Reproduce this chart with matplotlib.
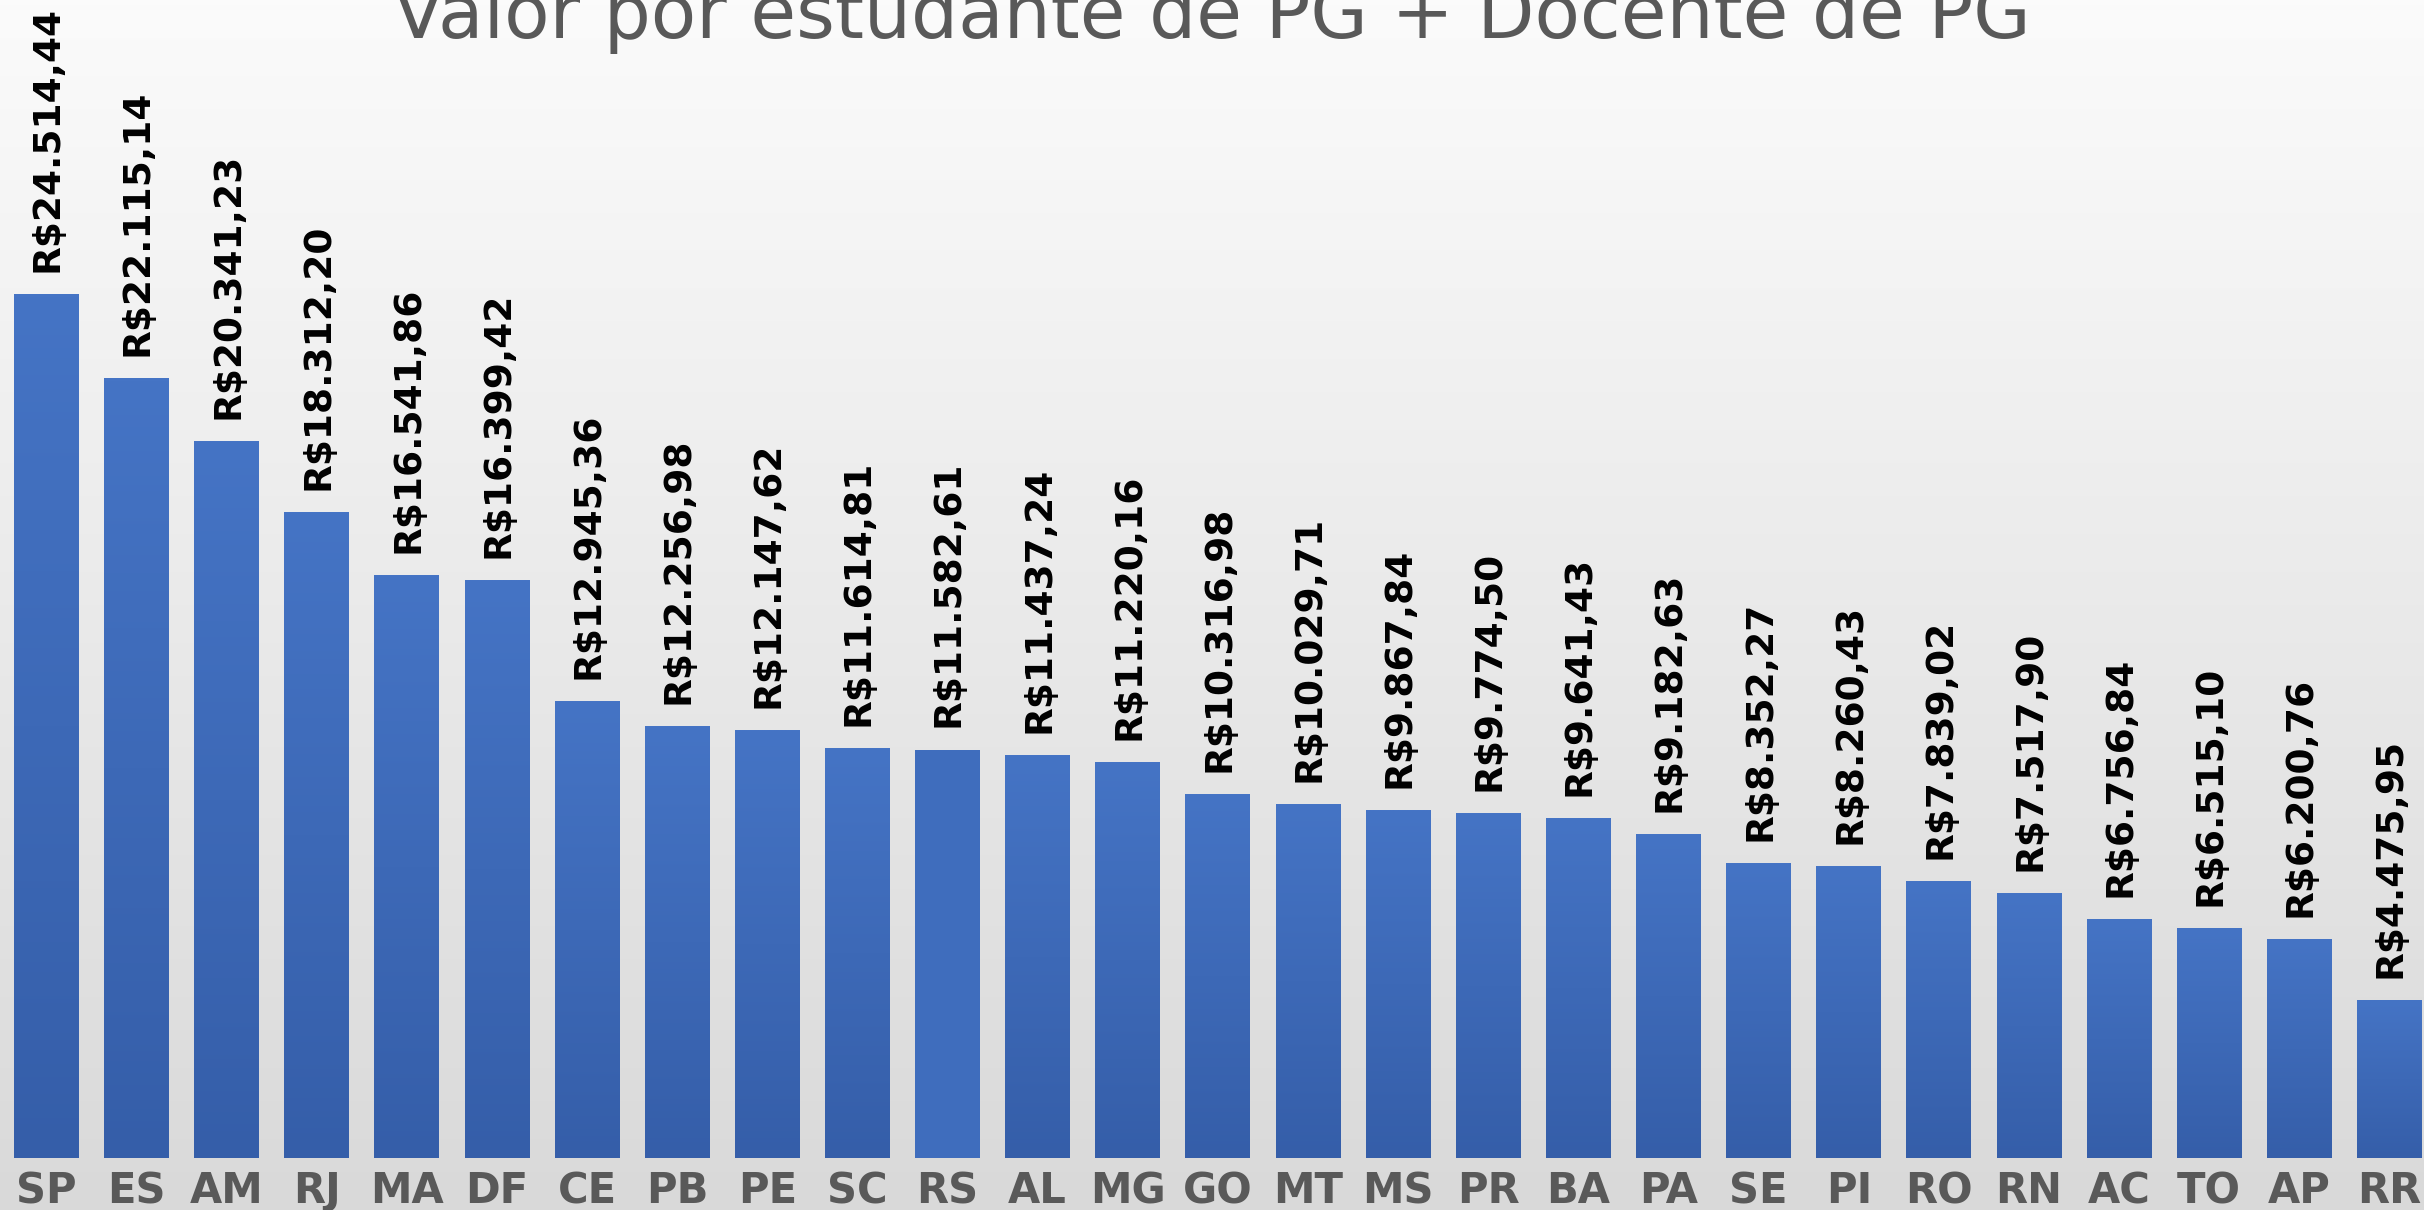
import matplotlib
matplotlib.use('Agg')
import matplotlib.pyplot as plt
import numpy as np
from matplotlib.colors import LinearSegmentedColormap

estados = ['SP', 'ES', 'AM', 'RJ', 'MA', 'DF', 'CE', 'PB', 'PE', 'SC', 'RS', 'AL', 'MG', 'GO',
           'MT', 'MS', 'PR', 'BA', 'PA', 'SE', 'PI', 'RO', 'RN', 'AC', 'TO', 'AP', 'RR']
valores = [24514.44, 22115.14, 20341.23, 18312.20, 16541.86, 16399.42, 12945.36, 12256.98,
           12147.62, 11614.81, 11582.61, 11437.24, 11220.16, 10316.98, 10029.71, 9867.84,
           9774.50, 9641.43, 9182.63, 8352.27, 8260.43, 7839.02, 7517.90, 6756.84, 6515.10,
           6200.76, 4475.95]
titulo = 'Valor por estudante de PG + Docente de PG'


def brl(v):
    s = '{:,.2f}'.format(v).replace(',', 'X').replace('.', ',').replace('X', '.')
    return 'R$' + s


W, H = 2424, 1210
fig = plt.figure(figsize=(W / 100, H / 100), dpi=100)

# background gradient (white at top -> light gray at bottom)
bg = fig.add_axes([0, 0, 1, 1], zorder=-10)
grad = np.linspace(0, 1, 256).reshape(-1, 1)
bg_cmap = LinearSegmentedColormap.from_list('bg', ['#fbfbfb', '#d9d9d9'])
bg.imshow(grad, aspect='auto', cmap=bg_cmap, extent=[0, 1, 1, 0])
bg.axis('off')

ax = fig.add_axes([1.34 / W, 52.3 / H, 2433.2 / W, 1157.7 / H])
ax.set_facecolor('none')

x = np.arange(len(estados))
bars = ax.bar(x, valores, width=0.72, color='none', edgecolor='none')

bar_cmap = LinearSegmentedColormap.from_list('bar', ['#355ea9', '#4574c5'])
for i, (b, v) in enumerate(zip(bars, valores)):
    x0 = b.get_x()
    x1 = x0 + b.get_width()
    if estados[i] == 'RS':
        ax.fill_between([x0, x1], 0, v, color='#3f6dbd', lw=0, zorder=2)
    else:
        ax.imshow(grad, aspect='auto', cmap=bar_cmap, extent=[x0, x1, 0, v],
                  origin='lower', zorder=2)
    ax.annotate(brl(v), (b.get_x() + b.get_width() / 2, v), xytext=(1, 16),
                textcoords='offset points', rotation=90, ha='center', va='bottom',
                fontsize=27, fontweight='bold', color='black')

ax.set_xlim(-0.5, len(estados) - 0.5)
ax.set_ylim(0, 1157.7 / 0.03523)
ax.set_xticks(x)
ax.set_xticklabels(estados, fontsize=30, fontweight='bold', color='#595959')
ax.tick_params(axis='x', length=0, pad=9)
ax.set_yticks([])
for s in ax.spines.values():
    s.set_visible(False)

fig.text(0.5, 1 - 37.7 / H, titulo, ha='center', va='baseline', fontsize=53.5, color='#595959')

fig.savefig('out.png', dpi=100)
